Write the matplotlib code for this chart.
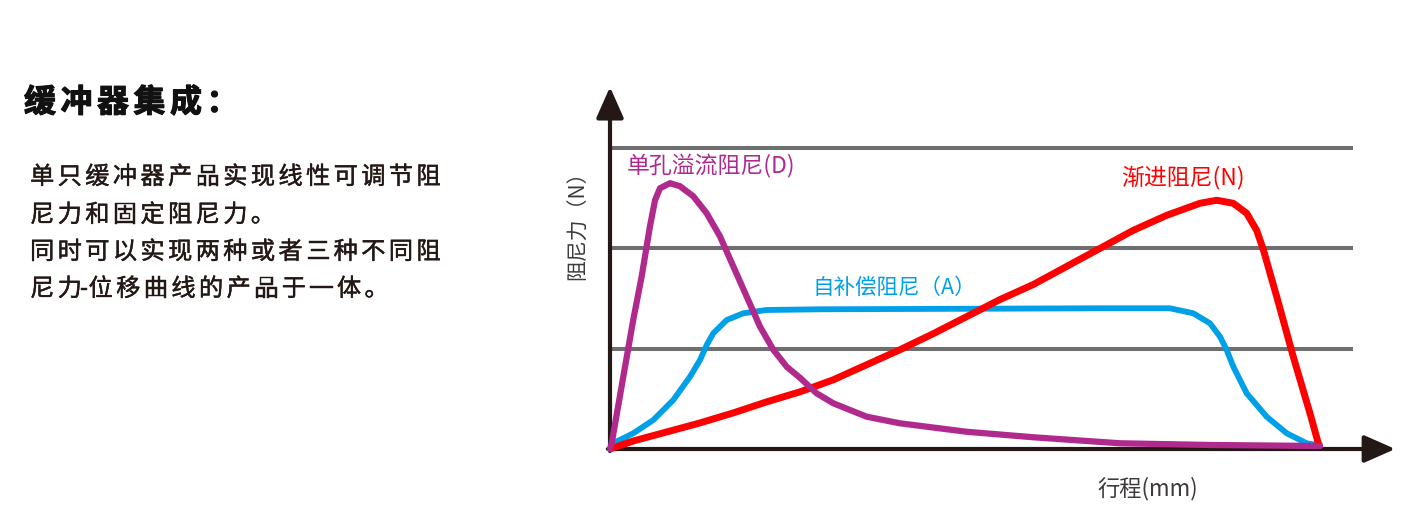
import matplotlib.pyplot as plt
import matplotlib.patheffects as pe

plt.rcParams['font.family'] = ['Noto Sans CJK SC', 'DejaVu Sans']

W, H = 1427, 519

# stroke in % of full travel, force in grid units (gridlines at 1, 2, 3)
d_x = [0, 0.24, 1.87, 3.28, 4.46, 5.63, 6.34, 7.04, 8.45, 9.86, 11.73, 13.62,
       15.49, 17.37, 19.25, 21.13, 23.0, 24.89, 26.76, 29.11, 31.45, 36.15,
       40.85, 50.24, 59.62, 71.83, 84.5, 100]
d_y = [0, 0.057, 0.72, 1.29, 1.72, 2.22, 2.48, 2.60, 2.65, 2.62, 2.52, 2.35,
       2.12, 1.82, 1.52, 1.22, 0.99, 0.82, 0.71, 0.555, 0.456, 0.322,
       0.256, 0.172, 0.117, 0.057, 0.04, 0.03]

a_x = [0, 0.46, 3.28, 6.10, 8.92, 11.27, 12.68, 13.62, 14.55, 16.44, 18.77,
       22.07, 29.58, 69.01, 78.87, 82.15, 84.51, 85.92, 86.86, 87.79, 89.68,
       92.49, 95.31, 98.13, 99.54, 100]
a_y = [0, 0.057, 0.157, 0.289, 0.489, 0.721, 0.887, 1.037, 1.154, 1.286, 1.353,
       1.386, 1.393, 1.403, 1.403, 1.353, 1.253, 1.12, 0.987, 0.821, 0.555,
       0.322, 0.157, 0.057, 0.04, 0.03]

n_x = [0, 3.28, 7.99, 12.68, 17.37, 22.07, 26.76, 31.45, 36.15, 40.85, 45.54,
       50.24, 54.93, 59.62, 69.01, 73.7, 78.41, 83.1, 85.45, 87.79, 89.68,
       91.08, 92.01, 93.9, 96.24, 98.59, 99.76, 100]
n_y = [0, 0.08, 0.17, 0.26, 0.36, 0.47, 0.57, 0.69, 0.84, 0.99, 1.15,
       1.32, 1.49, 1.64, 2.0, 2.18, 2.33, 2.45, 2.48, 2.45, 2.35,
       2.18, 1.99, 1.52, 0.92, 0.356, 0.057, 0.03]

grid_levels = [1, 2, 3]

label_d = "单孔溢流阻尼(D)"
label_n = "渐进阻尼(N)"
label_a = "自补偿阻尼（A）"
ylabel = "阻尼力（N）"
xlabel = "行程(mm)"

title = "缓冲器集成："
body_lines = [
    "单只缓冲器产品实现线性可调节阻",
    "尼力和固定阻尼力。",
    "同时可以实现两种或者三种不同阻",
    "尼力-位移曲线的产品于一体。",
]

c_d = "#B02A8E"
c_a = "#00A0E9"
c_n = "#FF0000"
c_axis = "#231815"
c_grid = "#6E6E6E"
c_text = "#231815"

fig = plt.figure(figsize=(W / 100, H / 100), dpi=100)
fig.patch.set_facecolor("white")

# chart area: origin at (610, 449) px, 7.1 px per % and 100.3 px per grid unit
ax = fig.add_axes([610 / W, (H - 449) / H, (1400 - 610) / W, (449 - 80) / H])
ax.set_xlim(0, 111.27)
ax.set_ylim(0, 3.679)
ax.axis("off")

for g in grid_levels:
    ax.plot([0.3, 104.6], [g, g], color=c_grid, lw=2.9, solid_capstyle="butt", zorder=1)

arrow = dict(arrowstyle="-|>,head_length=0.95,head_width=0.42", mutation_scale=20,
             lw=3, color=c_axis, shrinkA=0, shrinkB=0)
ax.annotate("", xy=(0, 3.61), xytext=(0, -0.02), arrowprops=arrow, annotation_clip=False, zorder=2)
ax.annotate("", xy=(110.6, 0), xytext=(-0.3, 0), arrowprops=arrow, annotation_clip=False, zorder=2)

ax.plot(a_x, a_y, color=c_a, lw=4.2, solid_joinstyle="round", solid_capstyle="round", clip_on=False, zorder=3)
ax.plot(n_x, n_y, color=c_n, lw=5, solid_joinstyle="round", solid_capstyle="butt", clip_on=False, zorder=4)
ax.plot(d_x, d_y, color=c_d, lw=4.5, solid_joinstyle="round", solid_capstyle="round", clip_on=False, zorder=5)

ax.text(14.2, 2.82, label_d, color=c_d, fontsize=16.5, ha="center", va="center")
ax.text(80.7, 2.71, label_n, color=c_n, fontsize=16.5, ha="center", va="center")
ax.text(40.1, 1.605, label_a, color=c_a, fontsize=15.5, ha="center", va="center")

fig.text(578 / W, 1 - 220 / H, ylabel, rotation=90, fontsize=15, color="#3E3A39",
         ha="center", va="center")
fig.text(1148 / W, 1 - 489 / H, xlabel, fontsize=16, color="#3E3A39",
         ha="center", va="center")


def spaced(text, x0, y, step, **kw):
    x = x0
    for ch in text:
        if ch == "-":
            fig.text((x - 0.2 * step) / W, 1 - y / H, ch, ha="left", va="center", **kw)
            x += 0.12 * step
            continue
        fig.text(x / W, 1 - y / H, ch, ha="left", va="center", **kw)
        x += step


spaced(title, 24, 103, 36.5, fontsize=23, fontweight="heavy", color="#111111",
       path_effects=[pe.withStroke(linewidth=0.8, foreground="#111111")])

line_y = [177, 215, 252, 289]
for line, y in zip(body_lines, line_y):
    spaced(line, 30, y, 27.6, fontsize=17.5, color=c_text,
           path_effects=[pe.withStroke(linewidth=0.3, foreground=c_text)])

fig.savefig("out.png", dpi=100)
